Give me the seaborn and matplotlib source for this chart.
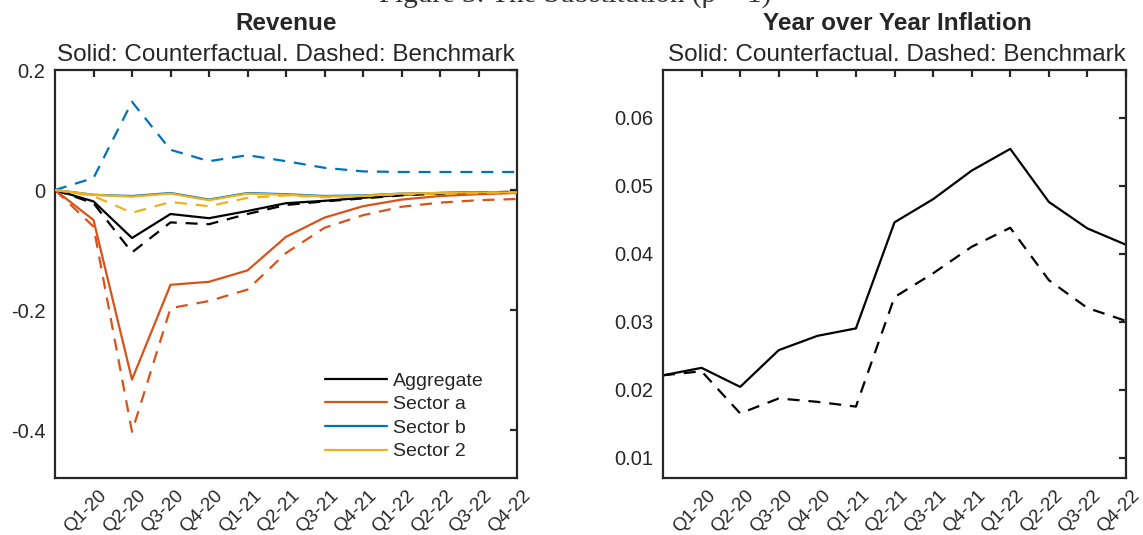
import numpy as np
import pandas as pd
import matplotlib
matplotlib.use("Agg")
import matplotlib.pyplot as plt
import matplotlib.transforms as mtransforms
from matplotlib.lines import Line2D
import seaborn as sns

# ---- data -------------------------------------------------------------
periods = list(range(13))  # period 0 is the pre-shock steady state
quarters = ["Q1-20", "Q2-20", "Q3-20", "Q4-20", "Q1-21", "Q2-21",
            "Q3-21", "Q4-21", "Q1-22", "Q2-22", "Q3-22", "Q4-22"]

# Revenue responses (counterfactual = solid, benchmark = dashed)
agg_cf = [0, -0.019, -0.080, -0.040, -0.047, -0.035, -0.022, -0.018, -0.013, -0.008, -0.005, -0.004, -0.003]
agg_bm = [0, -0.022, -0.104, -0.054, -0.057, -0.040, -0.025, -0.019, -0.014, -0.009, -0.006, -0.004, -0.003]
seca_cf = [0, -0.050, -0.316, -0.158, -0.153, -0.134, -0.078, -0.046, -0.027, -0.016, -0.010, -0.007, -0.005]
seca_bm = [0, -0.061, -0.403, -0.197, -0.185, -0.166, -0.105, -0.063, -0.042, -0.028, -0.021, -0.017, -0.015]
secb_cf = [0, -0.008, -0.010, -0.005, -0.016, -0.005, -0.007, -0.010, -0.009, -0.006, -0.005, -0.004, -0.004]
secb_bm = [0, 0.020, 0.147, 0.067, 0.048, 0.058, 0.048, 0.037, 0.031, 0.030, 0.030, 0.030, 0.030]
sec2_cf = [0, -0.008, -0.011, -0.006, -0.017, -0.006, -0.008, -0.011, -0.010, -0.006, -0.005, -0.004, -0.004]
sec2_bm = [0, -0.010, -0.038, -0.020, -0.027, -0.013, -0.009, -0.012, -0.010, -0.007, -0.006, -0.005, -0.004]

# Year-over-year inflation
infl_cf = [0.0221, 0.0232, 0.0204, 0.0258, 0.0279, 0.0290, 0.0446, 0.0480, 0.0522, 0.0554, 0.0476, 0.0437, 0.0413]
infl_bm = [0.0221, 0.0227, 0.0165, 0.0187, 0.0182, 0.0175, 0.0336, 0.0371, 0.0410, 0.0438, 0.0361, 0.0320, 0.0301]

series_names = ["Aggregate", "Sector a", "Sector b", "Sector 2"]
series_colors = ["#000000", "#D95319", "#0072BD", "#EDB120"]
revenue_cf = [agg_cf, seca_cf, secb_cf, sec2_cf]
revenue_bm = [agg_bm, seca_bm, secb_bm, sec2_bm]

# ---- style ------------------------------------------------------------
sns.set_style("white")
plt.rcParams["font.family"] = ["Liberation Sans", "DejaVu Sans"]
axis_grey = "#262626"
plt.rcParams.update({
    "axes.edgecolor": axis_grey,
    "axes.linewidth": 1.6,
    "xtick.color": axis_grey,
    "ytick.color": axis_grey,
    "xtick.direction": "in",
    "ytick.direction": "in",
    "xtick.major.size": 5,
    "ytick.major.size": 5,
    "xtick.major.width": 1.6,
    "ytick.major.width": 1.6,
    "xtick.labelsize": 13.5,
    "ytick.labelsize": 14.5,
})

W, H = 1143, 535
fig = plt.figure(figsize=(W / 100, H / 100), dpi=100)


def px_axes(x0, x1, y0, y1):
    return fig.add_axes([x0 / W, 1 - y1 / H, (x1 - x0) / W, (y1 - y0) / H])


ax_rev = px_axes(55, 517, 70, 478)
ax_inf = px_axes(663, 1126, 70, 478)

lw = 1.6
dash = (5.4, 4.0)

# Revenue panel
for name, col, cf in zip(series_names, series_colors, revenue_cf):
    sns.lineplot(x=periods, y=cf, ax=ax_rev, color=col, linewidth=lw,
                 label=name, legend=False)
for col, bm in zip(series_colors, revenue_bm):
    sns.lineplot(x=periods, y=bm, ax=ax_rev, color=col, linewidth=lw,
                 legend=False).lines[-1].set_dashes(dash)
# keep the sector 2 solid line on top of the other near-zero lines
ax_rev.lines[3].set_zorder(3)

# Inflation panel
sns.lineplot(x=periods, y=infl_cf, ax=ax_inf, color="black", linewidth=lw, legend=False)
sns.lineplot(x=periods, y=infl_bm, ax=ax_inf, color="black", linewidth=lw,
             legend=False).lines[-1].set_dashes(dash)

ax_rev.set_ylim(-0.48, 0.2)
ax_rev.set_yticks([-0.4, -0.2, 0, 0.2])
ax_rev.set_yticklabels(["-0.4", "-0.2", "0", "0.2"])
ax_inf.set_ylim(0.007, 0.067)
ax_inf.set_yticks([0.01, 0.02, 0.03, 0.04, 0.05, 0.06])
ax_inf.set_yticklabels(["0.01", "0.02", "0.03", "0.04", "0.05", "0.06"])

for ax in (ax_rev, ax_inf):
    ax.set_xlim(0, 12)
    ax.set_xticks(periods[1:])
    ax.tick_params(top=True, right=True, labeltop=False, labelright=False)
    ax.tick_params(axis="y", pad=7)
    ax.tick_params(axis="x", pad=0)
    ax.set_xticklabels(quarters, rotation=45, ha="right", va="center",
                       rotation_mode="anchor")
    ax.set_xlabel("")
    ax.set_ylabel("")
    for s in ax.spines.values():
        s.set_visible(True)
        s.set_color(axis_grey)
        s.set_linewidth(1.6)

# shift the rotated quarter labels below and right of their ticks
offset = mtransforms.ScaledTranslation(11 / 100, -15 / 100, fig.dpi_scale_trans)
for ax in (ax_rev, ax_inf):
    for lab in ax.get_xticklabels():
        lab.set_transform(lab.get_transform() + offset)

handles = [Line2D([], [], color=c, linewidth=lw) for c in series_colors]
ax_rev.legend(handles, series_names, loc="lower right", frameon=False,
              fontsize=14, handlelength=3.2, handletextpad=0.3,
              labelspacing=0.31, bbox_to_anchor=(0.965, 0.0))

# Titles
def fig_text(xpx, ypx, s, **kw):
    fig.text(xpx / W, 1 - ypx / H, s, ha="center", va="baseline", **kw)

for cx, title in ((286, "Revenue"), (897, "Year over Year Inflation")):
    fig_text(cx, 30, title, fontsize=17.5, fontweight="bold")
    fig_text(cx, 61, "Solid: Counterfactual. Dashed: Benchmark", fontsize=17.5)

# Figure caption running off the top edge
fig.text(575 / W, 1 - 1.5 / H, "Figure 3: The Substitution (ρ = 1)",
         ha="center", va="baseline", fontsize=21,
         family=["Liberation Serif", "DejaVu Serif"], color="#333333")

fig.savefig("out.png", dpi=100)
